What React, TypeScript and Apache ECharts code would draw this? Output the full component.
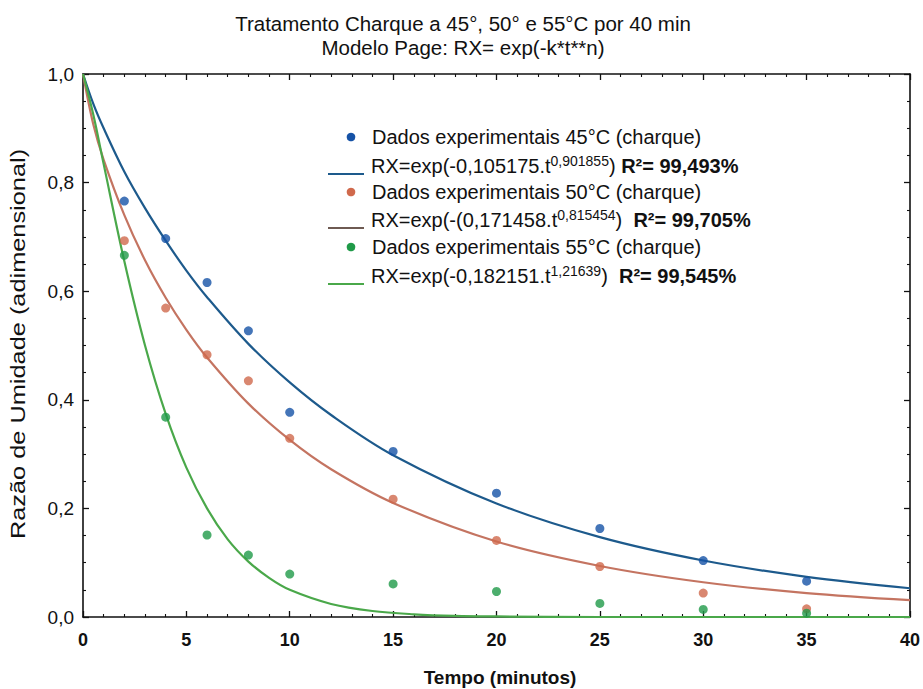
import React, { useEffect, useRef } from "react";
import * as echarts from "echarts";

// Experimental drying points (time in minutes, moisture ratio)
const tempos = [2, 4, 6, 8, 10, 15, 20, 25, 30, 35];
const dados45 = [0.766, 0.697, 0.616, 0.527, 0.377, 0.305, 0.228, 0.163, 0.104, 0.066];
const dados50 = [0.693, 0.569, 0.483, 0.435, 0.329, 0.217, 0.141, 0.093, 0.044, 0.015];
const dados55 = [0.666, 0.368, 0.151, 0.114, 0.079, 0.061, 0.047, 0.025, 0.014, 0.007];

// Fitted Page-model curves, sampled along the time axis
const tCurva = [0, 0.5, 1, 2, 3, 4, 5, 6, 8, 10, 12, 15, 20, 25, 30, 35, 40];
const curva45 = [1.0, 0.945, 0.9, 0.82, 0.753, 0.693, 0.638, 0.589, 0.503, 0.432, 0.372, 0.298, 0.209, 0.147, 0.104, 0.074, 0.053];
const curva50 = [1.0, 0.907, 0.842, 0.74, 0.657, 0.588, 0.529, 0.478, 0.393, 0.326, 0.272, 0.21, 0.139, 0.094, 0.064, 0.044, 0.031];
const tCurva55 = [0, 0.5, 1, 2, 3, 4, 5, 6, 7, 8, 9, 10, 12, 14, 16, 18, 20, 25, 30, 35, 40];
const curva55 = [1.0, 0.925, 0.834, 0.655, 0.5, 0.374, 0.275, 0.2, 0.143, 0.102, 0.072, 0.05, 0.024, 0.011, 0.005, 0.002, 0.001, 0, 0, 0, 0];

const legendTextos = [
  "Dados experimentais 45°C (charque)",
  "{b|RX=exp(-0,105175.t}{s|0,901855}{b|) }{r|R²= 99,493%}",
  "Dados experimentais 50°C (charque)",
  "{b|RX=exp(-(0,171458.t}{s|0,815454}{b|)  }{r|R²= 99,705%}",
  "Dados experimentais 55°C (charque)",
  "{b|RX=exp(-0,182151.t}{s|1,21639}{b|)  }{r|R²= 99,545%}",
];

const FONT = "Arial, 'Liberation Sans', sans-serif";
const corPonto = ["#1552a6", "#d0694c", "#1f9a48"];
const corCurva = ["#1d5a8c", "#c47461", "#4aa84a"];
const corLegLinha = ["#1d5a8c", "#6e5a52", "#4aa84a"];
const INK = "#111";
const FRAME = "#111";

const pares = (xs: number[], ys: number[]) => xs.map((x, i) => [x, ys[i]]);

export default function App() {
  const ref = useRef<HTMLDivElement>(null);

  useEffect(() => {
    if (!ref.current) return;
    const chart = echarts.init(ref.current, null, { renderer: "svg" });

    const tick = { show: true, inside: true, length: 6, lineStyle: { color: FRAME, width: 1.3 } };
    const minor = (n: number) => ({ show: true, splitNumber: n, length: 3, lineStyle: { color: FRAME, width: 1.1 } });
    const linha = { show: true, onZero: false, lineStyle: { color: FRAME, width: 1.6 } };

    // bottom/left axes carry the labels; top/right mirror them to close the frame
    const xAxes = [
      {
        type: "value",
        position: "bottom",
        min: 0,
        max: 40,
        interval: 5,
        axisLine: linha,
        axisTick: tick,
        minorTick: minor(5),
        splitLine: { show: false },
        axisLabel: { margin: 14, fontSize: 18, fontWeight: "bold", fontFamily: FONT, color: INK },
      },
      {
        type: "value",
        position: "top",
        min: 0,
        max: 40,
        interval: 5,
        axisLine: linha,
        axisTick: tick,
        minorTick: minor(5),
        splitLine: { show: false },
        axisLabel: { show: false },
      },
    ];
    const yAxes = [
      {
        type: "value",
        position: "left",
        min: 0,
        max: 1,
        interval: 0.2,
        axisLine: linha,
        axisTick: tick,
        minorTick: minor(4),
        splitLine: { show: false },
        axisLabel: {
          margin: 9,
          fontSize: 19,
          fontFamily: FONT,
          color: INK,
          formatter: (v: number) => v.toFixed(1).replace(".", ","),
        },
      },
      {
        type: "value",
        position: "right",
        min: 0,
        max: 1,
        interval: 0.2,
        axisLine: linha,
        axisTick: tick,
        minorTick: minor(4),
        splitLine: { show: false },
        axisLabel: { show: false },
      },
    ];

    const legendY = [137, 166, 192, 220, 247, 276];
    const graphics: any[] = [
      {
        type: "text",
        x: 463,
        y: 23,
        style: {
          text: "Tratamento Charque a 45°, 50° e 55°C por 40 min",
          fontSize: 20.5,
          fontFamily: FONT,
          fill: INK,
          align: "center",
          verticalAlign: "middle",
        },
      },
      {
        type: "text",
        x: 463,
        y: 47,
        style: {
          text: "Modelo Page: RX= exp(-k*t**n)",
          fontSize: 20.5,
          fontFamily: FONT,
          fill: INK,
          align: "center",
          verticalAlign: "middle",
        },
      },
      {
        type: "text",
        x: 19,
        y: 344,
        rotation: Math.PI / 2,
        scaleX: 1.3,
        style: {
          text: "Razão de Umidade (adimensional)",
          fontSize: 19.5,
          fontFamily: FONT,
          fill: INK,
          align: "center",
          verticalAlign: "middle",
        },
      },
      {
        type: "text",
        x: 500,
        y: 677,
        style: {
          text: "Tempo (minutos)",
          fontSize: 19,
          fontWeight: "bold",
          fontFamily: FONT,
          fill: INK,
          align: "center",
          verticalAlign: "middle",
        },
      },
    ];

    for (let i = 0; i < 3; i++) {
      const yDot = legendY[i * 2];
      const yFit = legendY[i * 2 + 1];
      graphics.push({ type: "circle", shape: { cx: 351, cy: yDot, r: 4.3 }, style: { fill: corPonto[i] } });
      graphics.push({
        type: "text",
        x: 372,
        y: yDot,
        style: { text: legendTextos[i * 2], fontSize: 20, fontFamily: FONT, fill: INK, verticalAlign: "middle" },
      });
      graphics.push({
        type: "line",
        shape: { x1: 328, y1: yFit + 8, x2: 364, y2: yFit + 8 },
        style: { stroke: corLegLinha[i], lineWidth: 2 },
      });
      graphics.push({
        type: "text",
        x: 371,
        y: yFit,
        style: {
          text: legendTextos[i * 2 + 1],
          fontFamily: FONT,
          fill: INK,
          verticalAlign: "middle",
          rich: {
            b: { fontSize: 20, fontFamily: FONT, fill: INK, lineHeight: 24 },
            s: { fontSize: 14, fontFamily: FONT, fill: INK, lineHeight: 14, verticalAlign: "top" },
            r: { fontSize: 20, fontWeight: "bold", fontFamily: FONT, fill: INK, lineHeight: 24 },
          },
        },
      });
    }

    const curvas = [pares(tCurva, curva45), pares(tCurva, curva50), pares(tCurva55, curva55)];
    const pontos = [pares(tempos, dados45), pares(tempos, dados50), pares(tempos, dados55)];

    const series: any[] = [];
    curvas.forEach((d, i) =>
      series.push({ type: "line", data: d, smooth: 0.35, symbol: "none", lineStyle: { color: corCurva[i], width: 2.2 }, z: 2 })
    );
    pontos.forEach((d, i) =>
      series.push({ type: "scatter", data: d, symbol: "circle", symbolSize: 9, itemStyle: { color: corPonto[i] }, z: 3 })
    );

    chart.setOption({
      animation: false,
      backgroundColor: "#fff",
      grid: { left: 83, top: 74, right: 12, bottom: 72, containLabel: false },
      xAxis: xAxes,
      yAxis: yAxes,
      series,
      graphic: graphics,
    });

    return () => chart.dispose();
  }, []);

  return <div ref={ref} style={{ width: 923, height: 689, position: "absolute", left: 0, top: 0 }} />;
}
